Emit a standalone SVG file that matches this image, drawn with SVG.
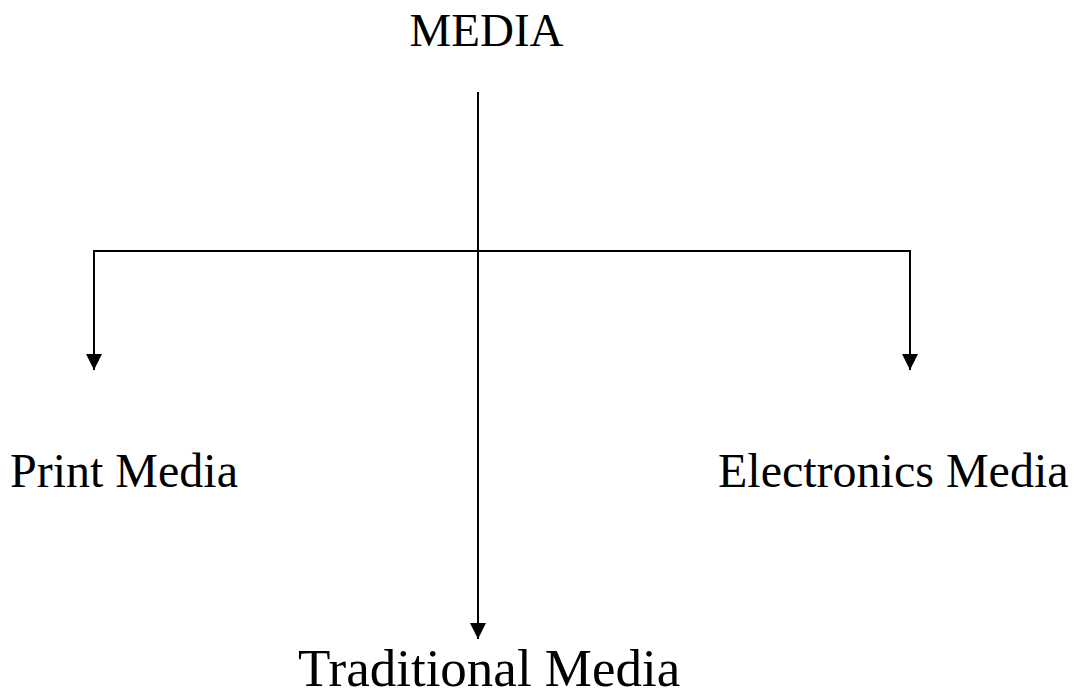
<svg xmlns="http://www.w3.org/2000/svg" width="1077" height="694" viewBox="0 0 1077 694">
<style>
.lbl{font-family:"Liberation Serif","Times New Roman",serif;fill:#000}
.ln{stroke:#000;stroke-width:2;fill:none}
</style>
<defs>
<marker id="ah" markerUnits="userSpaceOnUse" markerWidth="18" markerHeight="18" refX="16" refY="8" orient="auto">
<path d="M0,0 L16,8 L0,16 Z" fill="#000"/>
</marker>
</defs>
<rect width="1077" height="694" fill="#fff"/>
<g id="connectors">
<line class="ln" x1="478" y1="92" x2="478" y2="639" marker-end="url(#ah)"/>
<polyline class="ln" points="94,370 94,251 910,251 910,370"/>
<line class="ln" x1="94" y1="300" x2="94" y2="370" marker-end="url(#ah)"/>
<line class="ln" x1="910" y1="300" x2="910" y2="370" marker-end="url(#ah)"/>
</g>
<g id="media"><text class="lbl" x="486.5" y="46" font-size="47" text-anchor="middle">MEDIA</text></g>
<g id="print"><text class="lbl" x="10" y="487" font-size="48">Print Media</text></g>
<g id="electronics"><text class="lbl" x="718" y="487" font-size="48">Electronics Media</text></g>
<g id="traditional"><text class="lbl" x="298" y="686" font-size="53">Traditional Media</text></g>
</svg>
